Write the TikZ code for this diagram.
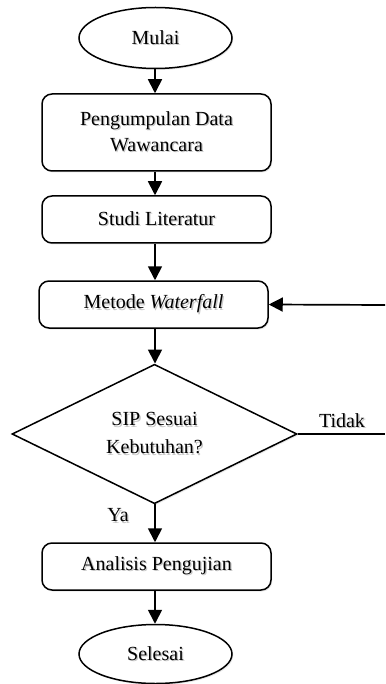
\documentclass[tikz,border=0pt]{standalone}
\usepackage{fontspec}
\setmainfont{Liberation Serif}
\usetikzlibrary{shapes.geometric,arrows.meta,shadows}

% text with a soft grey shadow below-right
\newcommand\sh[1]{\leavevmode\rlap{\raisebox{-1.3pt}{\hspace{1.3pt}\textcolor{black!22}{#1}}}#1}

\tikzset{
  base/.style={draw, line width=1.5pt, fill=white, inner sep=0pt, align=center,
    font=\fontsize{20}{26}\selectfont,
    drop shadow={opacity=0.18, shadow xshift=1.2pt, shadow yshift=-1.5pt}},
  terminal/.style={base, ellipse, minimum width=153pt, minimum height=61pt},
  process/.style={base, rectangle, rounded corners=10pt, minimum width=229pt},
  decision/.style={base, diamond, minimum width=285pt, minimum height=136pt},
  flow/.style={line width=1.7pt, -{Triangle[width=14pt,length=14pt]}},
  plain/.style={line width=1.5pt},
  tag/.style={inner sep=0pt, font=\fontsize{20}{26}\selectfont}
}

\begin{document}
\begin{tikzpicture}[x=1pt,y=-1pt]
  \useasboundingbox (0,0) rectangle (385,684);

  \node[terminal] (start) at (155.5,38) {\sh{Mulai}};
  \node[process, minimum height=77pt] (data) at (156.5,132.5)
    {\sh{Pengumpulan Data}\\\sh{Wawancara}};
  \node[process, minimum height=47pt] (lit) at (156.5,219.5) {\sh{Studi Literatur}};
  \node[process, minimum height=47pt] (wf) at (153.5,304.5)
    {\sh{Metode \textit{Waterfall}}};
  \node[decision] (check) at (154.5,434)
    {\sh{SIP Sesuai}\\[2pt]\sh{Kebutuhan?}};
  \node[process, minimum height=47pt] (test) at (156.5,566.5)
    {\sh{Analisis Pengujian}};
  \node[terminal, minimum height=59pt] (stop) at (155.5,654) {\sh{Selesai}};

  \coordinate (noEnd) at (385,434);
  \coordinate (back) at (385,305);

  \draw[flow] (start.south -| 155,0) -- (155,0 |- data.north);
  \draw[flow] (155,0 |- data.south) -- (155,0 |- lit.north);
  \draw[flow] (155,0 |- lit.south) -- (155,0 |- wf.north);
  \draw[flow] (155,0 |- wf.south) -- (155,0 |- check.north);
  \draw[flow] (155,0 |- check.south) -- (155,0 |- test.north);
  \draw[flow] (155,0 |- test.south) -- (155,0 |- stop.north);

  \draw[plain] (check.east) -- (noEnd);
  \draw[flow] (back) -- (wf.east);

  \node[tag] (no) at (342,421) {\sh{Tidak}};
  \node[tag] (yes) at (118,516) {\sh{Ya}};
\end{tikzpicture}
\end{document}
